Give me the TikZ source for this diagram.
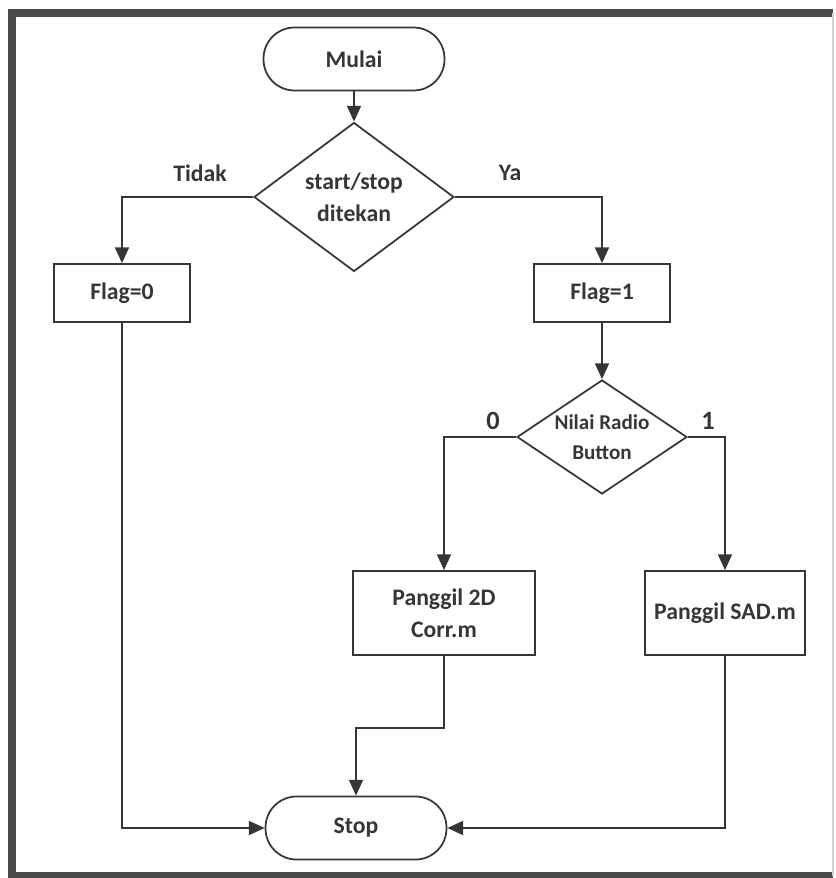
\documentclass[tikz,border=0pt]{standalone}
\usepackage{fontspec}
\setmainfont{Carlito}
\usetikzlibrary{arrows.meta,shapes.geometric}
\definecolor{ink}{HTML}{363636}
\tikzset{
  term/.style={draw=ink,line width=1pt,rounded corners=0.62cm,
    minimum width=3.62cm,minimum height=1.26cm,inner sep=0pt},
  decision/.style={diamond,draw=ink,line width=1pt,inner sep=0pt,align=center},
  proc/.style={rectangle,draw=ink,line width=1pt,align=center,inner sep=2pt},
  lbl/.style={inner sep=1pt},
  arr/.style={draw=ink,line width=0.9pt,-{Triangle[length=9pt,width=8pt]}}
}

\begin{document}
\begin{tikzpicture}[x=0.02cm,y=-0.02cm,text=ink,
    font=\fontsize{13.5}{18}\selectfont\bfseries]
  \useasboundingbox (0,0) rectangle (835,878);
  % frame
  \draw[ink!90,line width=4pt] (833,13) -- (12,13) -- (12,876) -- (833,876);
  \draw[gray!35,line width=0.6pt] (833,13) -- (833,876);

  % nodes
  \node[term] (mulai) at (354,59) {Mulai};
  \node[decision,minimum width=4cm,minimum height=2.98cm,aspect=1.34]
    (tekan) at (354,197) {start/stop\\ditekan};
  \node[proc,minimum width=2.72cm,minimum height=1.16cm] (flag0) at (122,293) {Flag=0};
  \node[proc,minimum width=2.72cm,minimum height=1.16cm] (flag1) at (602,293) {Flag=1};
  \node[decision,minimum width=3.4cm,minimum height=2.28cm,aspect=1.49,
    font=\fontsize{12}{17}\selectfont\bfseries]
    (radio) at (602,437) {Nilai Radio\\Button};
  \node[proc,minimum width=3.64cm,minimum height=1.68cm] (corr) at (444,613) {Panggil 2D\\Corr.m};
  \node[proc,minimum width=3.2cm,minimum height=1.68cm] (sad) at (725,613) {Panggil SAD.m};
  \node[term] (stop) at (356,828) {Stop};

  % branch labels
  \node[lbl] (tidak) at (200,173) {Tidak};
  \node[lbl] (ya) at (510,173) {Ya};
  \node[lbl,font=\fontsize{15}{18}\selectfont\bfseries] (nol) at (493,421) {0};
  \node[lbl,font=\fontsize{15}{18}\selectfont\bfseries] (satu) at (708,421) {1};

  % connectors
  \draw[arr] (mulai) -- (tekan);
  \draw[arr] (tekan.west) -| (flag0.north);
  \draw[arr] (tekan.east) -| (flag1.north);
  \draw[arr] (flag1) -- (radio);
  \draw[arr] (radio.west) -| (corr.north);
  \draw[arr] (radio.east) -| (sad.north);
  \draw[arr] (flag0.south) |- (stop.west);
  \draw[arr] (sad.south) |- (stop.east);
  \draw[arr] (corr.south) -- ++(0,72) -| (stop.north);
\end{tikzpicture}
\end{document}
